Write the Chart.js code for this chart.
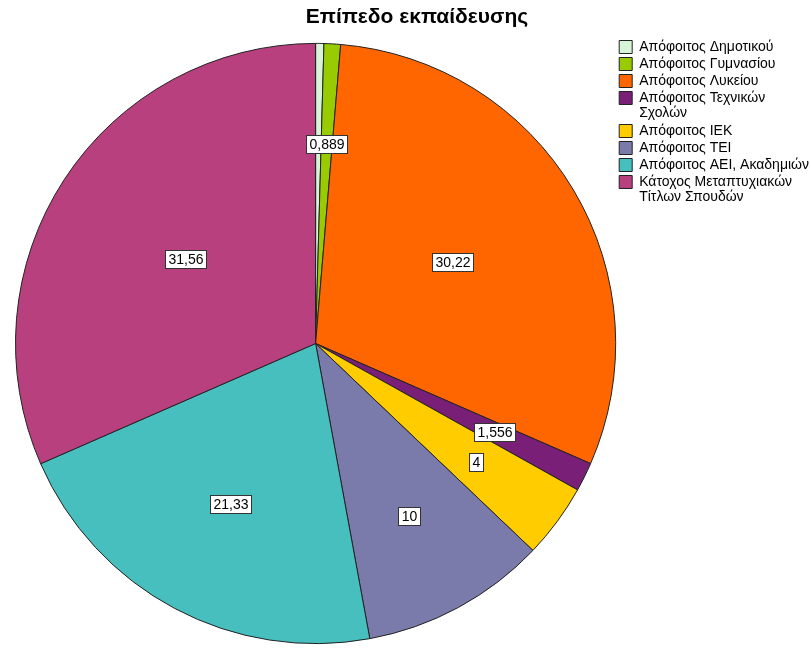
<!DOCTYPE html>
<html>
<head>
<meta charset="utf-8">
<script src="https://cdn.jsdelivr.net/npm/chart.js@4.4.0/dist/chart.umd.min.js"></script>
<style>
  body { margin: 0; background: #fff; }
  #box { width: 811px; height: 650px; }
</style>
</head>
<body>
<div id="box"><canvas id="pizza"></canvas></div>
<script>
// dados do grafico (percentuais)
const titulo = 'Επίπεδο εκπαίδευσης'
const categorias = [
  'Απόφοιτος Δημοτικού',
  'Απόφοιτος Γυμνασίου',
  'Απόφοιτος Λυκείου',
  ['Απόφοιτος Τεχνικών', 'Σχολών'],
  'Απόφοιτος ΙΕΚ',
  'Απόφοιτος ΤΕΙ',
  'Απόφοιτος ΑΕΙ, Ακαδημιών',
  ['Κάτοχος Μεταπτυχιακών', 'Τίτλων Σπουδών']
]
const valores = [0.444, 0.889, 30.22, 1.556, 4, 10, 21.33, 31.56]
// rotulos mostrados dentro das fatias ('' = sem rotulo)
const rotulos = ['', '0,889', '30,22', '1,556', '4', '10', '21,33', '31,56']

const cores = ['#d6f5d6', '#99cc00', '#ff6600', '#7a1f78', '#ffcc00', '#7b7bab', '#47bfbf', '#b8407f']

// escreve os rotulos perto do centroide de cada fatia
// (nas fatias grandes o SPSS puxa um pouco mais pro centro)
const pluginRotulos = {
  id: 'rotulos',
  afterDatasetsDraw(chart) {
    const ctx = chart.ctx
    const meta = chart.getDatasetMeta(0)
    ctx.save()
    ctx.font = '14px "Liberation Sans", Arial, sans-serif'
    ctx.textAlign = 'center'
    ctx.textBaseline = 'middle'
    meta.data.forEach((arc, i) => {
      const txt = rotulos[i]
      if (!txt) return
      const meio = (arc.startAngle + arc.endAngle) / 2
      const a = (arc.endAngle - arc.startAngle) / 2
      let k = a > 0.001 ? (2 / 3) * Math.sin(a) / a : 2 / 3
      k = k * (1 - 0.085 * Math.pow(a, 4))
      const r = arc.outerRadius * k
      const x = arc.x + Math.cos(meio) * r
      const y = arc.y + Math.sin(meio) * r
      const w = Math.round(ctx.measureText(txt).width + 6)
      const h = 18
      const bx = Math.round(x - w / 2) + 0.5
      const by = Math.round(y - h / 2) + 0.5
      ctx.fillStyle = '#fff'
      ctx.fillRect(bx, by, w, h)
      ctx.strokeStyle = '#333'
      ctx.lineWidth = 1
      ctx.strokeRect(bx, by, w, h)
      ctx.fillStyle = '#000'
      ctx.fillText(txt, bx + w / 2, by + h / 2 + 0.5)
    })
    ctx.restore()
  }
}

// titulo desenhado a mao pra ficar na mesma posicao
const pluginTitulo = {
  id: 'tituloSpss',
  afterDraw(chart) {
    const ctx = chart.ctx
    ctx.save()
    ctx.font = 'bold 21px "Liberation Sans", Arial, sans-serif'
    ctx.fillStyle = '#000'
    ctx.textAlign = 'center'
    ctx.textBaseline = 'middle'
    ctx.fillText(titulo, 417, 17)
    ctx.restore()
  }
}

const ctx1 = document.getElementById('pizza')
let graficoPizza = new Chart(ctx1, {
  type: 'pie',
  data: {
    labels: categorias,
    datasets: [{
      data: valores,
      backgroundColor: cores,
      borderColor: '#222',
      borderWidth: 1
    }]
  },
  options: {
    responsive: true,
    maintainAspectRatio: false,
    animation: false,
    layout: { padding: { top: 37, bottom: -3, left: 15, right: -8 } },
    plugins: {
      title: { display: false },
      tooltip: { enabled: false },
      legend: {
        position: 'right',
        align: 'start',
        labels: {
          boxWidth: 13,
          boxHeight: 13,
          padding: 3,
          color: '#000',
          font: { family: '"Liberation Sans", Arial, sans-serif', size: 14, lineHeight: 15 / 14 },
          generateLabels(chart) {
            return categorias.map((c, i) => ({
              text: c,
              fillStyle: cores[i],
              strokeStyle: '#222',
              lineWidth: 1,
              index: i
            }))
          }
        }
      }
    }
  },
  plugins: [pluginRotulos, pluginTitulo]
})
</script>
</body>
</html>
